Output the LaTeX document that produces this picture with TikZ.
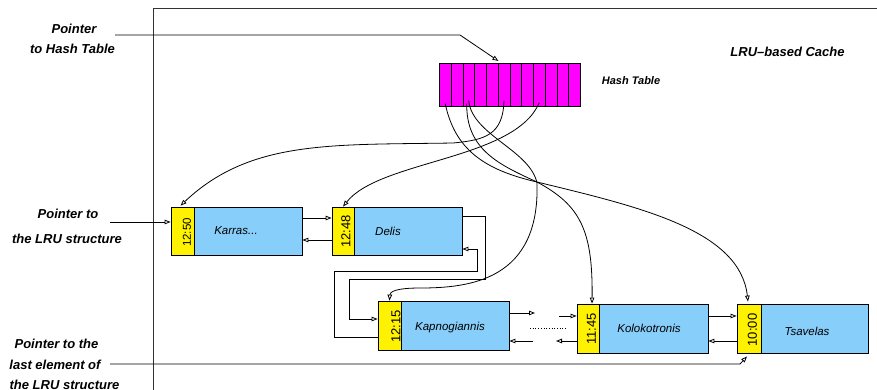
\documentclass[tikz,border=0pt]{standalone}
\usepackage{fontspec}
\setmainfont{Liberation Sans}
\usetikzlibrary{arrows.meta}
\definecolor{skyb}{RGB}{135,206,250}
\definecolor{hashmag}{RGB}{255,0,255}
\begin{document}
\begin{tikzpicture}[x=1pt,y=-1pt,
  arr/.style={line width=0.8pt,-{Triangle[open,length=6pt,width=4.5pt]}},
  hcell/.style={draw,fill=hashmag,line width=0.7pt,minimum width=11.75pt,minimum height=43pt,inner sep=0pt,anchor=north west},
  tbox/.style={draw,fill=yellow,line width=0.8pt,inner sep=0pt},
  nbox/.style={draw,fill=skyb,line width=0.8pt,inner sep=0pt},
  lbl/.style={font=\fontsize{13}{15}\selectfont\bfseries\itshape,anchor=base,inner sep=0pt},
  nm/.style={font=\fontsize{11.5}{13}\selectfont\itshape,inner sep=0pt},
  ts/.style={font=\fontsize{13}{15}\selectfont,rotate=90,inner sep=0pt}]
\useasboundingbox (0,0) rectangle (877,389);
% cache frame
\draw[line width=1pt,black!80] (153,395) -- (153,8) -- (885,8);
% labels
\node[lbl] (lp1) at (74,33) {Pointer};
\node[lbl] (lp2) at (72.5,53.5) {to Hash Table};
\node[lbl] (lr1) at (68,218) {Pointer to};
\node[lbl] (lr2) at (67,243) {the LRU structure};
\node[lbl] (ll1) at (56.5,348) {Pointer to the};
\node[lbl] (ll2) at (55,369) {last element of};
\node[lbl] (ll3) at (64.5,389) {the LRU structure};
\node[font=\fontsize{13}{15}\selectfont\bfseries\itshape,inner sep=0pt] (cache) at (787.5,52) {LRU–based Cache};
\node[font=\fontsize{11}{13}\selectfont\bfseries\itshape,inner sep=0pt] (htl) at (631,81) {Hash Table};
% hash table
\foreach \i in {0,...,11} \node[hcell] (h\i) at ({439+11.75*\i},63) {};
% LRU boxes
\node[tbox,minimum width=23pt,minimum height=48pt] (k1t) at (182.5,231) {};
\node[nbox,minimum width=108pt,minimum height=48pt] (k1n) at (248,231) {};
\node[tbox,minimum width=22pt,minimum height=48pt] (k2t) at (343,231) {};
\node[nbox,minimum width=108pt,minimum height=48pt] (k2n) at (408,231) {};
\node[tbox,minimum width=23pt,minimum height=49pt] (k3t) at (389.5,325.5) {};
\node[nbox,minimum width=108pt,minimum height=49pt] (k3n) at (455,325.5) {};
\node[tbox,minimum width=22pt,minimum height=49pt] (k4t) at (588,328.5) {};
\node[nbox,minimum width=109pt,minimum height=49pt] (k4n) at (653.5,328.5) {};
\node[tbox,minimum width=24pt,minimum height=49pt] (k5t) at (749,328.5) {};
\node[nbox,minimum width=107pt,minimum height=49pt] (k5n) at (814.5,328.5) {};
% texts in boxes
\node[ts,font=\fontsize{11.5}{13}\selectfont] (k1s) at (187,232.5) {12:50};
\node[ts] (k2s) at (346,231.5) {12:48};
\node[ts] (k3s) at (396,326.5) {12:15};
\node[ts] (k4s) at (591.5,329) {11:45};
\node[ts] (k5s) at (752.5,330) {10:00};
\node[nm] (k1x) at (236,231) {Karras...};
\node[nm] (k2x) at (388,231) {Delis};
\node[nm] (k3x) at (450,328) {Kapnogiannis};
\node[nm] (k4x) at (649,328) {Kolokotronis};
\node[nm] (k5x) at (807,331) {Tsavelas};
% pointers
\coordinate (p1) at (115,35);
\coordinate (p2) at (110,222);
\coordinate (p3) at (110,364);
\draw[arr] (p1) -- (460,35) -- ([yshift=2pt]h4.north east);
\draw[arr] (p2) -- ([yshift=9pt]k1t.west);
\draw[arr] (p3) -- (740,364) -- ([xshift=-2pt,yshift=-3pt]k5t.south);
% list links
\draw[arr] ([yshift=13pt]k1n.east) -- ([yshift=13pt]k2t.west);
\draw[arr] ([yshift=-9pt]k2t.west) -- ([yshift=-9pt]k1n.east);
\draw[arr] ([yshift=15pt]k2n.east) -- ++(23,0) |- (349,279) |- ([yshift=6.5pt]k3t.west);
\draw[arr] ([yshift=-11.5pt]k3t.west) -| (334,271) -| (477,249) -- ([yshift=-18pt]k2n.east);
\coordinate (f1) at (535,313);
\coordinate (f2) at (559,316);
\coordinate (b1) at (556,341);
\coordinate (b2) at (533,341);
\coordinate (d1) at (530,328);
\coordinate (d2) at (567,328);
\draw[arr] ([yshift=12.5pt]k3n.east) -- (f1);
\draw[arr] (f2) -- ([yshift=12.5pt]k4t.west);
\draw[arr] ([yshift=-12.5pt]k4t.west) -- (b1);
\draw[arr] (b2) -- ([yshift=-15.5pt]k3n.east);
\draw[dotted,line width=0.7pt] (d1) -- (d2);
\draw[arr] ([yshift=12.5pt]k4n.east) -- ([yshift=12.5pt]k5t.west);
\draw[arr] ([yshift=-12.5pt]k5t.west) -- ([yshift=-12.5pt]k4n.east);
% hash curves
\draw[arr] ([yshift=3pt]h0.south) .. controls (455,150) and (485,170) .. (537,182) .. controls (640,207) and (740,230) .. ([xshift=-1pt,yshift=2pt]k5t.north);
\draw[arr] ([xshift=-2pt,yshift=3pt]h2.south) .. controls (466,150) and (500,165) .. (537,182) .. controls (580,205) and (593,230) .. ([xshift=4pt]k4t.north);
\draw[arr] ([yshift=6pt]h2.south) .. controls (472,135) and (530,150) .. (537,183) .. controls (540,280) and (470,288) .. (420,288) .. controls (395,288) and (390,292) .. (k3t.north);
\draw[arr] ([yshift=6pt]h5.south) .. controls (503,135) and (485,140) .. (453,143) .. controls (330,145) and (250,140) .. ([xshift=-2pt,yshift=1pt]k1t.north);
\draw[arr] ([yshift=4pt]h8.south) .. controls (515,160) and (380,160) .. (k2t.north);
\end{tikzpicture}
\end{document}
